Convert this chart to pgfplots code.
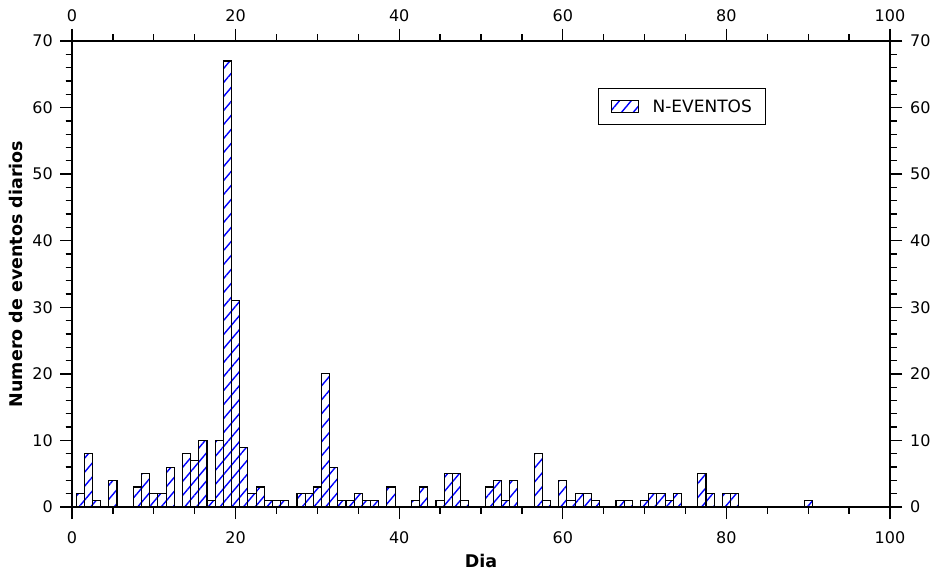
\documentclass[border=0pt]{standalone}
\usepackage{fontspec}
\setmainfont{DejaVu Sans}
\usepackage{pgfplots}
\pgfplotsset{compat=1.18}
\usetikzlibrary{patterns.meta}
\begin{document}
\begin{tikzpicture}
\useasboundingbox (-72pt,-66pt) rectangle (865pt,507pt);
\pgfplotsset{
  commonaxis/.style={
    at={(0pt,0pt)}, anchor=south west,
    scale only axis, width=818pt, height=466pt,
    xmin=0, xmax=100, ymin=0, ymax=70,
    xtick={0,20,...,100}, minor x tick num=3,
    ytick={0,10,...,70}, minor y tick num=4,
    tick align=outside,
    major tick length=12pt, minor tick length=6.5pt,
    every tick/.style={black, line width=1.3pt},
    axis line style={black, line width=1.3pt},
    /pgf/number format/assume math mode=true,
    ticklabel style={font=\fontsize{16}{19}\selectfont},
    xticklabel style={inner sep=2pt},
    yticklabel style={inner sep=3pt},
  }
}
\begin{axis}[commonaxis,
  xticklabel style={yshift=-10pt},
  yticklabel style={xshift=-4pt},
  xlabel={\bfseries Dia},
  ylabel={\bfseries Numero de eventos diarios},
  label style={font=\fontsize{17.5}{20}\selectfont},
  xlabel style={yshift=-5pt},
  ylabel style={yshift=3pt},
  legend style={at={(0.643,0.899)}, anchor=north west, draw=black, line width=1pt,
    font=\fontsize{17}{20}\selectfont, inner xsep=12pt, inner ysep=9pt},
  legend image code/.code={\draw[#1, line width=1pt] (0pt,-6pt) rectangle (27pt,6pt);
    \path (0pt,0pt) (39pt,0pt);},
]
\addplot[ybar, bar width=1, draw=black, line width=1.1pt,
  pattern={Lines[angle=50, distance=9pt, line width=1.4pt]}, pattern color=blue]
  coordinates {
(1,2) (2,8) (3,1) (4,0) (5,4) (6,0) (7,0) (8,3) (9,5) (10,2)
(11,2) (12,6) (13,0) (14,8) (15,7) (16,10) (17,1) (18,10) (19,67) (20,31)
(21,9) (22,2) (23,3) (24,1) (25,1) (26,1) (27,0) (28,2) (29,2) (30,3)
(31,20) (32,6) (33,1) (34,1) (35,2) (36,1) (37,1) (38,0) (39,3) (40,0)
(41,0) (42,1) (43,3) (44,0) (45,1) (46,5) (47,5) (48,1) (49,0) (50,0)
(51,3) (52,4) (53,1) (54,4) (55,0) (56,0) (57,8) (58,1) (59,0) (60,4)
(61,1) (62,2) (63,2) (64,1) (65,0) (66,0) (67,1) (68,1) (69,0) (70,1)
(71,2) (72,2) (73,1) (74,2) (75,0) (76,0) (77,5) (78,2) (79,0) (80,2)
(81,2) (82,0) (83,0) (84,0) (85,0) (86,0) (87,0) (88,0) (89,0) (90,1)
(91,0)
  };
\addlegendentry{N-EVENTOS}
\end{axis}
\begin{axis}[commonaxis,
  xticklabel pos=upper, yticklabel pos=right,
  xticklabel style={yshift=5pt},
  yticklabel style={xshift=5pt},
]
\end{axis}
\end{tikzpicture}
\end{document}
